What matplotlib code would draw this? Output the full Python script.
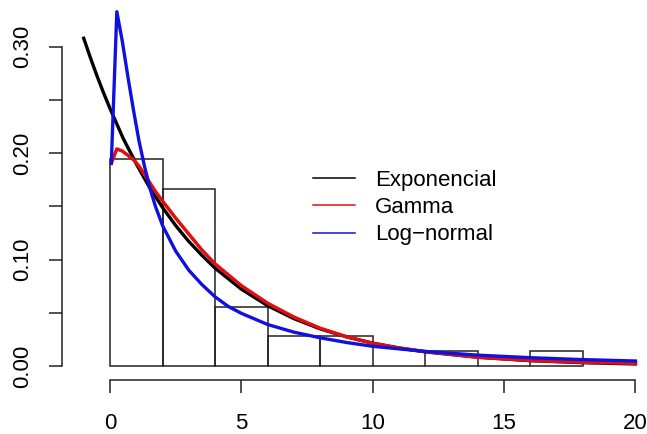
import matplotlib
matplotlib.use('Agg')
import matplotlib.pyplot as plt
from matplotlib.lines import Line2D
import numpy as np

# --- Data ---
bin_edges = [0, 2, 4, 6, 8, 10, 12, 14, 16, 18]
bin_density = [0.1945, 0.1667, 0.0556, 0.0278, 0.0278, 0.0, 0.0139, 0.0, 0.0139]

exp_x = [-1, -0.75, -0.5, -0.25, 0, 0.5, 1, 1.5, 2, 2.5, 3, 3.5, 4, 5, 6, 7, 8,
         9, 10, 11, 12, 14, 16, 18, 20]
exp_y = [0.308, 0.290, 0.273, 0.257, 0.242, 0.214, 0.190, 0.168, 0.149, 0.132,
         0.117, 0.104, 0.0919, 0.0722, 0.0567, 0.0445, 0.0349, 0.0274, 0.0215,
         0.0169, 0.0133, 0.0082, 0.0050, 0.0031, 0.0019]

gamma_x = [0.05, 0.26, 0.47, 0.68, 0.89, 1.1, 1.31, 1.52, 1.73, 2.0, 2.5, 3, 3.5,
           4, 5, 6, 7, 8, 9, 10, 11, 12, 14, 16, 18, 20]
gamma_y = [0.1905, 0.204, 0.202, 0.198, 0.194, 0.188, 0.180, 0.172, 0.164, 0.155,
           0.139, 0.124, 0.109, 0.096, 0.0755, 0.059, 0.046, 0.0355, 0.0275,
           0.0213, 0.017, 0.0135, 0.0083, 0.0052, 0.0035, 0.0025]

lnorm_x = [0.05, 0.26, 0.47, 0.68, 0.89, 1.1, 1.31, 1.52, 1.73, 2.0, 2.5, 3.0,
           3.5, 4.0, 4.5, 5.0, 6.0, 7.0, 8.0, 9.0, 10, 12, 14, 16, 18, 20]
lnorm_y = [0.1905, 0.333, 0.305, 0.272, 0.241, 0.212, 0.188, 0.167, 0.150, 0.132,
           0.108, 0.090, 0.0765, 0.065, 0.056, 0.0495, 0.039, 0.0318, 0.0265,
           0.0221, 0.0185, 0.0137, 0.0102, 0.0078, 0.0060, 0.0047]

legend_labels = ['Exponencial', 'Gamma', 'Log\u2212normal']
curve_colors = ['black', '#e01010', '#1010e0']

# --- Figure ---
plt.rcParams['font.family'] = ['Liberation Sans', 'DejaVu Sans']
W, H = 647, 434
fig = plt.figure(figsize=(W / 100, H / 100), dpi=100)
ax = fig.add_axes([62 / W, (H - 380) / H, (657 - 62) / W, (380 - 2) / H])

# histogram bars
widths = np.diff(bin_edges)
ax.bar(bin_edges[:-1], bin_density, width=widths, align='edge',
       facecolor='none', edgecolor='#222222', linewidth=1.1, zorder=1)

# density curves
ax.plot(exp_x, exp_y, color=curve_colors[0], lw=2.4, zorder=2)
ax.plot(gamma_x, gamma_y, color=curve_colors[1], lw=2.5, zorder=3)
ax.plot(lnorm_x, lnorm_y, color=curve_colors[2], lw=2.4, zorder=4)

ax.set_xlim(-1.827, 20.82)
ax.set_ylim(-0.01316, 0.3421)

# R-style axes
for s in ['top', 'right']:
    ax.spines[s].set_visible(False)
ax.spines['left'].set_bounds(0, 0.30)
ax.spines['bottom'].set_bounds(0, 20)
for s in ['left', 'bottom']:
    ax.spines[s].set_linewidth(1.1)
    ax.spines[s].set_color('#222222')

ax.set_xticks([0, 5, 10, 15, 20])
ax.set_yticks([0.0, 0.1, 0.2, 0.3])
ax.set_yticklabels(['0.00', '0.10', '0.20', '0.30'], rotation=90, va='center')
ax.set_yticks([0.05, 0.15, 0.25], minor=True)
ax.tick_params(axis='both', which='both', length=9.5, width=1.1,
               color='#222222', labelsize=16)
ax.tick_params(axis='x', pad=14.5)
ax.tick_params(axis='y', pad=11)

# legend (thin lines, no frame)
handles = [Line2D([], [], color=c, lw=1.1) for c in curve_colors]
ax.legend(handles, legend_labels, loc='center left',
          bbox_to_anchor=(313 / W, (H - 207.7) / H),
          bbox_transform=fig.transFigure, frameon=False, fontsize=16,
          handlelength=1.89, handletextpad=0.9, labelspacing=0.28,
          borderpad=0, borderaxespad=0)

fig.savefig('out.png', dpi=100)
